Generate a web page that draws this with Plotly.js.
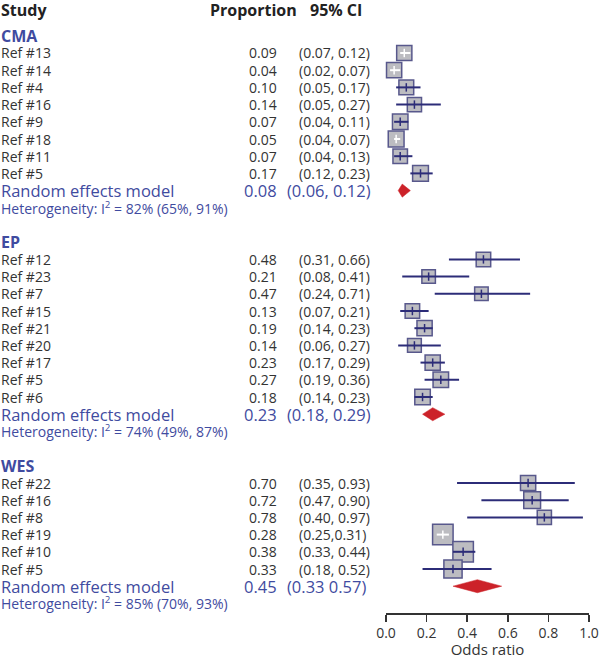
<!DOCTYPE html>
<html>
<head>
<meta charset="utf-8">
<script src="https://cdn.plot.ly/plotly-3.0.1.min.js"></script>
<style>html,body{margin:0;padding:0;background:#fff;}#chart{width:600px;height:659px;}</style>
</head>
<body>
<div id="chart"></div>
<script>
// ---------------- DATA ----------------
const groupNames = ['CMA', 'EP', 'WES'];

const cmaStudies = ['Ref #13', 'Ref #14', 'Ref #4', 'Ref #16', 'Ref #9', 'Ref #18', 'Ref #11', 'Ref #5'];
const cmaProp    = [0.09, 0.04, 0.10, 0.14, 0.07, 0.05, 0.07, 0.17];
const cmaLower   = [0.07, 0.02, 0.05, 0.05, 0.04, 0.04, 0.04, 0.12];
const cmaUpper   = [0.12, 0.07, 0.17, 0.27, 0.11, 0.07, 0.13, 0.23];
const cmaCI      = ['(0.07, 0.12)', '(0.02, 0.07)', '(0.05, 0.17)', '(0.05, 0.27)', '(0.04, 0.11)', '(0.04, 0.07)', '(0.04, 0.13)', '(0.12, 0.23)'];
const cmaWeights = [16.7, 16.7, 16.3, 15.7, 17.0, 17.3, 16.0, 17.3];

const epStudies = ['Ref #12', 'Ref #23', 'Ref #7', 'Ref #15', 'Ref #21', 'Ref #20', 'Ref #17', 'Ref #5', 'Ref #6'];
const epProp    = [0.48, 0.21, 0.47, 0.13, 0.19, 0.14, 0.23, 0.27, 0.18];
const epLower   = [0.31, 0.08, 0.24, 0.07, 0.14, 0.06, 0.17, 0.19, 0.14];
const epUpper   = [0.66, 0.41, 0.71, 0.21, 0.23, 0.27, 0.29, 0.36, 0.23];
const epCI      = ['(0.31, 0.66)', '(0.08, 0.41)', '(0.24, 0.71)', '(0.07, 0.21)', '(0.14, 0.23)', '(0.06, 0.27)', '(0.17, 0.29)', '(0.19, 0.36)', '(0.14, 0.23)'];
const epWeights = [16.0, 15.0, 15.0, 16.0, 16.7, 15.3, 16.7, 17.0, 17.0];

const wesStudies = ['Ref #22', 'Ref #16', 'Ref #8', 'Ref #19', 'Ref #10', 'Ref #5'];
const wesProp    = [0.70, 0.72, 0.78, 0.28, 0.38, 0.33];
const wesLower   = [0.35, 0.47, 0.40, 0.25, 0.33, 0.18];
const wesUpper   = [0.93, 0.90, 0.97, 0.31, 0.44, 0.52];
const wesCI      = ['(0.35, 0.93)', '(0.47, 0.90)', '(0.40, 0.97)', '(0.25,0.31)', '(0.33, 0.44)', '(0.18, 0.52)'];
const wesWeights = [16.7, 18.3, 15.7, 22.0, 22.0, 19.7];

const pooledProp  = [0.08, 0.23, 0.45];
const pooledLower = [0.06, 0.18, 0.33];
const pooledUpper = [0.12, 0.29, 0.57];
const pooledCI    = ['(0.06, 0.12)', '(0.18, 0.29)', '(0.33 0.57)'];
const hetI2       = [82, 74, 85];
const hetI2Lower  = [65, 49, 70];
const hetI2Upper  = [91, 87, 93];

const xTickVals = [0, 0.2, 0.4, 0.6, 0.8, 1.0];
const xTickText = ['0.0', '0.2', '0.4', '0.6', '0.8', '1.0'];

// ---------------- BUILD ----------------
const groups = [
  {studies: cmaStudies, prop: cmaProp, lo: cmaLower, hi: cmaUpper, ci: cmaCI, w: cmaWeights},
  {studies: epStudies, prop: epProp, lo: epLower, hi: epUpper, ci: epCI, w: epWeights},
  {studies: wesStudies, prop: wesProp, lo: wesLower, hi: wesUpper, ci: wesCI, w: wesWeights}
];

const W = 600, H = 659;
const FONT = '"Open Sans", "Noto Sans", sans-serif';
const TXT = '#333333';
const BLUE = '#3f4ba0';
const NAVY = '#2c2c78';
const PXPERUNIT = 203;   // px per x data unit (0..1 over 386..589)

const colNameX = 0 / W, colPropX = 278 / W, colCIX = 298 / W, colPooledCIX = 286 / W;
const headerRow = -2.5;

const annotations = [];
function ann(text, x, y, anchor, size, color, bold) {
  annotations.push({
    text: bold ? '<b>' + text + '</b>' : text,
    x: x, y: y, xref: 'paper', yref: 'y', xanchor: anchor, yanchor: 'middle',
    showarrow: false, borderpad: 0, font: {family: FONT, size: size, color: color}
  });
}

ann('Study', colNameX, headerRow, 'left', 16, '#222', true);
ann('Proportion', 298 / W, headerRow, 'right', 16, '#222', true);
ann('95% CI', 309 / W, headerRow, 'left', 16, '#222', true);

const sqX = [], sqY = [], sqS = [];
const navyX = [], navyY = [], whiteX = [], whiteY = [];
const tickNX = [], tickNY = [], tickWX = [], tickWY = [];
const diamondTraces = [];

let row = -1;
groups.forEach((g, gi) => {
  ann(groupNames[gi], colNameX, row, 'left', 16, BLUE, true);
  g.studies.forEach((s, i) => {
    const r = row + 1 + i;
    ann(s, colNameX, r, 'left', 14, TXT, false);
    ann(g.prop[i].toFixed(2), colPropX, r, 'right', 14, TXT, false);
    ann(g.ci[i], colCIX, r, 'left', 14, TXT, false);
    sqX.push(g.prop[i]); sqY.push(r); sqS.push(g.w[i] - 1.5);
    const hw = (g.w[i] / 2) / PXPERUNIT * 0.85;
    const inside = g.lo[i] > g.prop[i] - hw && g.hi[i] < g.prop[i] + hw;
    if (inside) {
      whiteX.push(g.lo[i], g.hi[i], null); whiteY.push(r, r, null);
      tickWX.push(g.prop[i]); tickWY.push(r);
    } else {
      navyX.push(g.lo[i], g.hi[i], null); navyY.push(r, r, null);
      tickNX.push(g.prop[i]); tickNY.push(r);
    }
  });
  const rr = row + g.studies.length + 1;
  ann('Random effects model', colNameX, rr, 'left', 16.5, BLUE, false);
  ann(pooledProp[gi].toFixed(2), colPropX, rr, 'right', 16.5, BLUE, false);
  ann(pooledCI[gi], colPooledCIX, rr, 'left', 16.5, BLUE, false);
  ann('Heterogeneity: I<sup>2</sup> = ' + hetI2[gi] + '% (' + hetI2Lower[gi] + '%, ' + hetI2Upper[gi] + '%)',
      colNameX, rr + 1, 'left', 14, BLUE, false);
  const dh = 0.38;
  diamondTraces.push({
    type: 'scatter', mode: 'lines', fill: 'toself', fillcolor: '#cc2229',
    x: [pooledLower[gi], pooledProp[gi], pooledUpper[gi], pooledProp[gi], pooledLower[gi]],
    y: [rr, rr - dh, rr, rr + dh, rr],
    line: {color: '#cc2229', width: 0.5}, hoverinfo: 'skip', showlegend: false
  });
  row = rr + 3;
});

const traces = [
  {type: 'scatter', mode: 'markers', x: sqX, y: sqY, cliponaxis: false,
   marker: {symbol: 'square', size: sqS, color: '#bcbcc1', opacity: 1, line: {color: '#58588c', width: 1.5}},
   hoverinfo: 'skip', showlegend: false},
  {type: 'scatter', mode: 'lines', x: navyX, y: navyY, cliponaxis: false,
   line: {color: NAVY, width: 2}, hoverinfo: 'skip', showlegend: false},
  {type: 'scatter', mode: 'lines', x: whiteX, y: whiteY, cliponaxis: false,
   line: {color: '#ffffff', width: 2}, hoverinfo: 'skip', showlegend: false},
  {type: 'scatter', mode: 'markers', x: tickNX, y: tickNY, cliponaxis: false,
   marker: {symbol: 'line-ns', size: 6, line: {color: NAVY, width: 1.5}},
   hoverinfo: 'skip', showlegend: false},
  {type: 'scatter', mode: 'markers', x: tickWX, y: tickWY, cliponaxis: false,
   marker: {symbol: 'line-ns', size: 6, line: {color: '#ffffff', width: 1.5}},
   hoverinfo: 'skip', showlegend: false}
].concat(diamondTraces);

const layout = {
  width: W, height: H,
  margin: {l: 0, r: 0, t: 0, b: 46, pad: 0},
  paper_bgcolor: '#ffffff', plot_bgcolor: 'rgba(0,0,0,0)',
  showlegend: false,
  font: {family: FONT, color: TXT},
  xaxis: {
    domain: [386 / W, 589 / W], range: [0, 1], fixedrange: true,
    showline: true, linecolor: '#333', linewidth: 1.5, mirror: false,
    ticks: 'outside', ticklen: 7, tickwidth: 1.5, tickcolor: '#333',
    tickvals: xTickVals, ticktext: xTickText,
    tickfont: {family: FONT, size: 14, color: TXT},
    showgrid: false, zeroline: false,
    title: {text: 'Odds ratio', font: {family: FONT, size: 15, color: TXT}, standoff: 5}
  },
  yaxis: {
    range: [32.558, -3.081], visible: false, showgrid: false, zeroline: false, fixedrange: true
  },
  annotations: annotations
};

Plotly.newPlot('chart', traces, layout, {displayModeBar: false, staticPlot: true});
</script>
</body>
</html>
